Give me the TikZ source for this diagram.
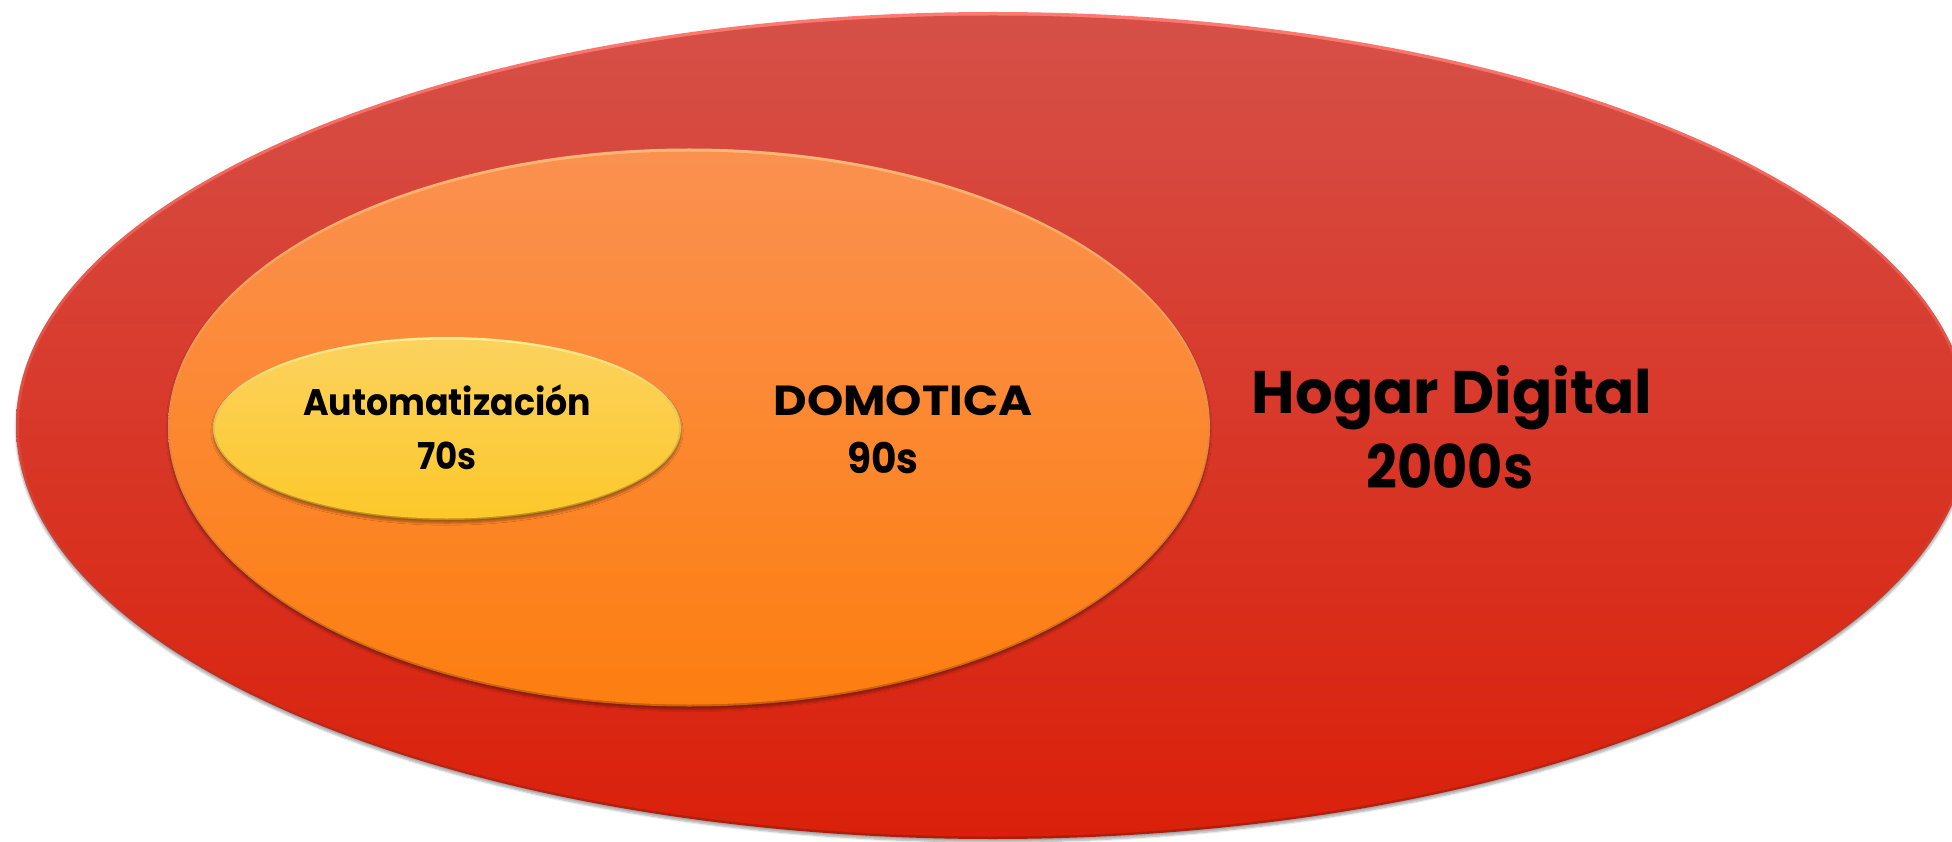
\documentclass[tikz,border=0pt]{standalone}
\usepackage{fontspec}
\setmainfont{Poppins}
\usetikzlibrary{shapes.geometric,shadows.blur}
\definecolor{redtop}{HTML}{D65048}
\definecolor{redbot}{HTML}{DA200A}
\definecolor{redrim}{HTML}{B01C0A}
\definecolor{redhi}{HTML}{FF7A72}
\definecolor{orgtop}{HTML}{FB9150}
\definecolor{orgbot}{HTML}{FD7E10}
\definecolor{orgrim}{HTML}{C8600E}
\definecolor{orghi}{HTML}{FFB878}
\definecolor{yeltop}{HTML}{FCD25E}
\definecolor{yelbot}{HTML}{FCC82A}
\definecolor{yelrim}{HTML}{B89018}
\definecolor{yelhi}{HTML}{FFF090}
\tikzset{
  oval/.style={ellipse, inner sep=0pt, outer sep=0pt,
    blur shadow={shadow xshift=0pt, shadow yshift=-3pt, shadow blur steps=6, shadow opacity=35}},
  face/.style={ellipse, inner sep=0pt, outer sep=0pt},
  lbl/.style={anchor=base, text=black, inner sep=0pt}
}
\begin{document}
\begin{tikzpicture}[x=1pt,y=-1pt]
\useasboundingbox (0,0) rectangle (1952,842);
\clip (0,0) rectangle (1952,842);
% outer ellipse
\node[oval, minimum width=1954pt, minimum height=827pt, top color=redhi, bottom color=redrim] (hogar) at (993,425.5) {};
\node[face, minimum width=1948pt, minimum height=821pt, top color=redtop, bottom color=redbot] (hogarin) at (993,426) {};
% middle ellipse
\node[oval, minimum width=1042pt, minimum height=558pt, top color=orghi, bottom color=orgrim] (domo) at (689,427.5) {};
\node[face, minimum width=1038pt, minimum height=553pt, top color=orgtop, bottom color=orgbot] (domoin) at (689,428) {};
% inner ellipse
\node[oval, minimum width=468pt, minimum height=183pt, top color=yelhi, bottom color=yelrim] (auto) at (447,428.5) {};
\node[face, minimum width=464pt, minimum height=179pt, top color=yeltop, bottom color=yelbot] (autoin) at (447,429) {};
% labels
\node[lbl, font=\bfseries\fontsize{37}{37}\selectfont] (t1) at (447,415) {\scalebox{0.94}[1]{Automatización}};
\node[lbl, font=\bfseries\fontsize{37}{37}\selectfont] (t1b) at (447,469) {\scalebox{0.92}[1]{70s}};
\node[lbl, font=\bfseries\fontsize{42}{42}\selectfont] (t2) at (903,415) {\scalebox{1.1}[1]{DOMOTICA}};
\node[lbl, font=\bfseries\fontsize{42}{42}\selectfont] (t2b) at (883,473) {\scalebox{0.93}[1]{90s}};
\node[lbl, font=\bfseries\fontsize{60}{60}\selectfont] (t3) at (1452,413) {\scalebox{0.99}[1]{Hogar Digital}};
\node[lbl, font=\bfseries\fontsize{60}{60}\selectfont] (t3b) at (1450,488) {\scalebox{0.9}[1]{2000s}};
\end{tikzpicture}
\end{document}
